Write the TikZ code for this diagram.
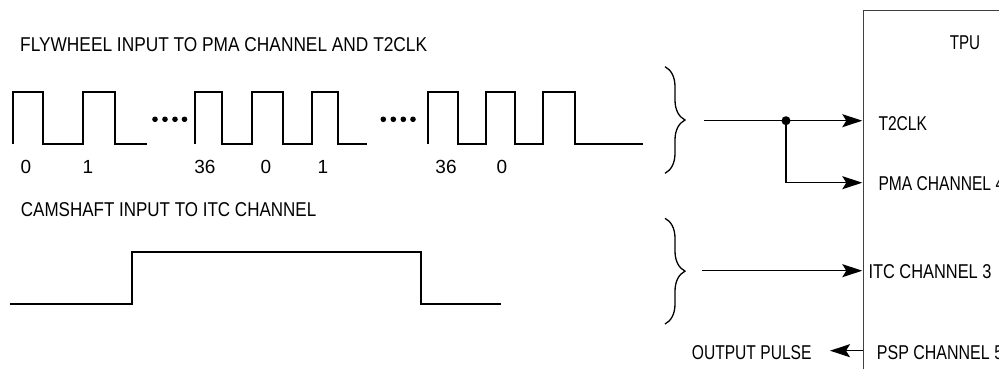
\documentclass[tikz,border=0pt]{standalone}
\usepackage{graphicx}
\usepackage{fontspec}
\setmainfont{Liberation Sans}
\usetikzlibrary{arrows.meta,decorations.pathreplacing}
\newcommand{\sqz}[2]{\scalebox{#1}[1]{#2}}
\begin{document}
\begin{tikzpicture}[x=1pt,y=-1pt,
  wave/.style={line width=2.1pt, line join=miter, line cap=butt},
  conn/.style={line width=1.3pt, -{Stealth[length=20pt,width=13pt,inset=4pt]}},
  bracestyle/.style={line width=1.3pt, decorate, decoration={brace, amplitude=20pt, aspect=0.5}},
  lbl/.style={font=\fontsize{20}{22}\selectfont, inner sep=0pt},
  digit/.style={font=\fontsize{19}{21}\selectfont, inner sep=0pt},
  dotmark/.style={fill=black}]
\clip (0,0) rectangle (999,369);
\fill[white] (0,0) rectangle (999,369);

% titles
\node[lbl, anchor=base west] (t1) at (20,51.7) {\sqz{0.865}{FLYWHEEL INPUT TO PMA CHANNEL AND T2CLK}};
\node[lbl, anchor=base west] (t2) at (20.7,216) {\sqz{0.85}{CAMSHAFT INPUT TO ITC CHANNEL}};

% flywheel waveform
\draw[wave] (13.3,144.3) |- (43.3,91.7) |- (83.3,144.3) |- (115,91.7) |- (146.7,144.3);
\draw[wave] (195,144.3) |- (221.7,91.7) |- (251.7,144.3) |- (283.3,91.7) |- (311.7,144.3) |- (338.3,91.7) |- (366.7,144.3);
\draw[wave] (428.3,144.3) |- (458.3,91.7) |- (486,144.3) |- (515,91.7) |- (543.3,144.3) |- (575,91.7) |- (643.3,144.3);
\foreach \x in {155,165,175,184.5,383.3,393.3,403.3,413}
  \fill[dotmark] (\x,119.3) circle (2.8pt);

% tooth labels
\node[digit, anchor=base] (n0a) at (26,173.3) {0};
\node[digit, anchor=base] (n1a) at (88,173.3) {1};
\node[digit, anchor=base] (n36a) at (205,173.3) {36};
\node[digit, anchor=base] (n0b) at (266,173.3) {0};
\node[digit, anchor=base] (n1b) at (323,173.3) {1};
\node[digit, anchor=base] (n36b) at (446,173.3) {36};
\node[digit, anchor=base] (n0c) at (502,173.3) {0};

% camshaft waveform
\draw[wave] (10,304.3) -| (131.7,251.7) -| (420.7,304.3) -- (501,304.3);

% braces
\draw[bracestyle] (665,66.7) -- (665,173.3);
\draw[bracestyle] (665,218.3) -- (665,324);

% TPU box
\draw[line width=1pt, black!75] (863.3,380) |- (1010,10.7);
\node[lbl, anchor=base] (tpu) at (965,50) {\sqz{0.76}{TPU}};
\node[lbl, anchor=base west] (t2clk) at (878.3,130) {\sqz{0.78}{T2CLK}};
\node[lbl, anchor=base west] (pma) at (878.3,190) {\sqz{0.78}{PMA CHANNEL 4}};
\node[lbl, anchor=base west] (itc) at (868.3,278.3) {\sqz{0.82}{ITC CHANNEL 3}};
\node[lbl, anchor=base west] (psp) at (876.7,359) {\sqz{0.8}{PSP CHANNEL 5}};
\node[lbl, anchor=base] (out) at (751.7,359) {\sqz{0.78}{OUTPUT PULSE}};

% connectors
\coordinate (s1) at (704,120.7);
\coordinate (j) at (786,120.7);
\coordinate (e1) at (862.3,120.7);
\coordinate (e2) at (862.3,182.7);
\coordinate (s3) at (701.7,270.7);
\coordinate (e3) at (862.3,270.7);
\coordinate (s4) at (863.3,350.7);
\coordinate (e4) at (830,350.7);
\draw[conn] (s1) -- (e1);
\draw[conn] (j) |- (e2);
\fill (j) circle (4.5pt);
\draw[conn] (s3) -- (e3);
\draw[conn] (s4) -- (e4);
\end{tikzpicture}
\end{document}
